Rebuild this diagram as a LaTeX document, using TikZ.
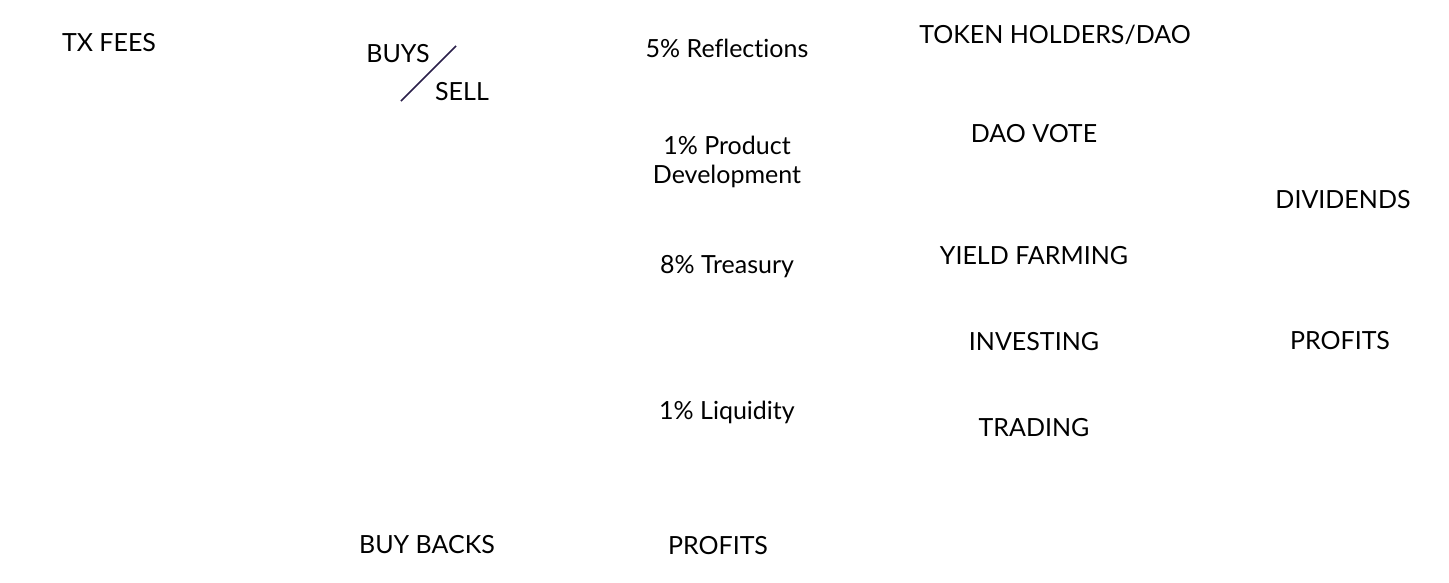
\documentclass[tikz,border=0pt]{standalone}
\usepackage{fontspec}
\setmainfont{Lato}[Ligatures=NoCommon]
\usepackage{tikz}
\usetikzlibrary{positioning, calc}
\definecolor{slashcol}{HTML}{2A1F4A}

\begin{document}
\begin{tikzpicture}[x=1pt, y=-1pt,
label text/.style={align=center, inner sep=0pt, font=\fontsize{25}{29.5}\selectfont}]
\tikzstyle{every node}=[label text]
\useasboundingbox (0,0) rectangle (1449,582);
% fees column
\node (TxFees) at (109,43) {TX FEES};
\node (Buys) at (398,54) {BUYS};
\node (Sell) at (462,92) {SELL};
\coordinate (SlashLow) at (401,101);
\coordinate (SlashHigh) at (456,46);
\draw[slashcol, line width=1.6pt] (SlashLow) -- (SlashHigh);
\node (BuyBacks) at (427,545) {BUY BACKS};
% split of the fees
\node (Reflections) at (727,48) {5\% Reflections};
\node (ProductDev) at (727,162) {1\% Product\\Development};
\node (Treasury) at (727,267) {8\% Treasury};
\node (Liquidity) at (727,412) {1\% Liquidity};
\node (ProfitsLow) at (718,546) {PROFITS};
% treasury use
\node (Holders) at (1055,35) {TOKEN HOLDERS/DAO};
\node (DaoVote) at (1034,134) {DAO VOTE};
\node (Farming) at (1034,256) {YIELD FARMING};
\node (Investing) at (1034,342) {INVESTING};
\node (Trading) at (1034,428) {TRADING};
% returns
\node (Dividends) at (1343,200) {DIVIDENDS};
\node (ProfitsHigh) at (1340,341) {PROFITS};
\end{tikzpicture}
\end{document}
